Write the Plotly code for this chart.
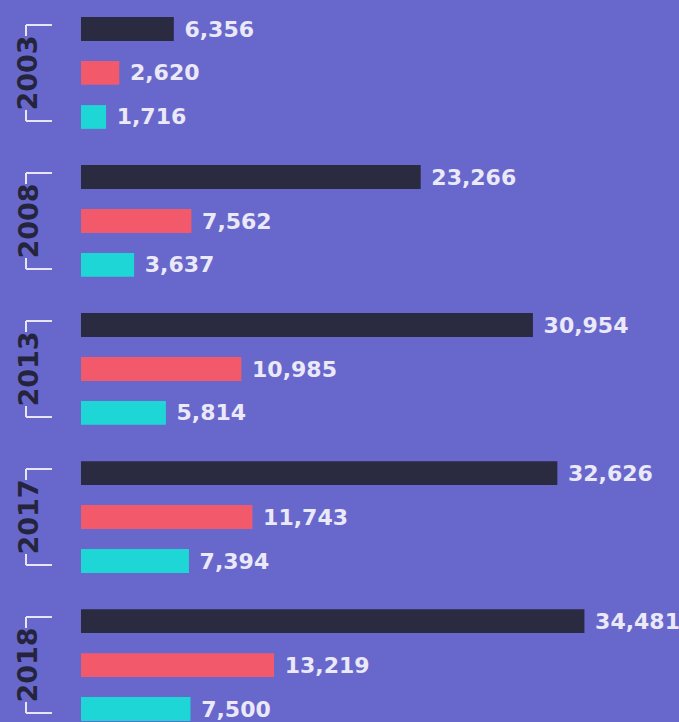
import plotly.graph_objects as go

# ---- data ----
years = ["2003", "2008", "2013", "2017", "2018"]
series_dark = [6356, 23266, 30954, 32626, 34481]
series_red = [2620, 7562, 10985, 11743, 13219]
series_cyan = [1716, 3637, 5814, 7394, 7500]

# ---- styling / layout constants ----
W, H = 679, 722
BG = "#6868cc"
C_DARK = "#2a2a40"
C_RED = "#f25a6b"
C_CYAN = "#1fd6d6"
C_LABEL = "#ebe9f8"
C_YEAR = "#24243c"

GROUP_STEP = 3.364          # row units between groups
PX_PER_UNIT_Y = 44.0
PX_PER_VAL = 0.0146         # px per value unit on x
BAR_X0_PX = 81

y_dark = [i * GROUP_STEP for i in range(len(years))]
y_red = [v + 1 for v in y_dark]
y_cyan = [v + 2 for v in y_dark]

first_px, last_px = 29, 709
y_top = -first_px / PX_PER_UNIT_Y
y_bot = y_cyan[-1] + (H - last_px) / PX_PER_UNIT_Y
x_min = -BAR_X0_PX / PX_PER_VAL
x_max = (W - BAR_X0_PX) / PX_PER_VAL

label_font = dict(family="DejaVu Sans", size=22, color=C_LABEL, weight="bold")

fig = go.Figure()
for vals, ys, col in [(series_dark, y_dark, C_DARK),
                      (series_red, y_red, C_RED),
                      (series_cyan, y_cyan, C_CYAN)]:
    fig.add_trace(go.Bar(
        x=vals, y=ys, orientation="h", width=0.54,
        marker=dict(color=col, line=dict(width=0)),
        texttemplate="\u00a0%{x:,}", textposition="outside",
        textfont=label_font, constraintext="none", cliponaxis=False,
        hoverinfo="skip", showlegend=False,
    ))

shapes = []
annotations = []
lx0, lx1 = 26 / W, 52 / W
off = 4 / PX_PER_UNIT_Y
tick = 11 / PX_PER_UNIT_Y
line = dict(color="#e6e4f5", width=2)
for i, yr in enumerate(years):
    yt = y_dark[i] - off
    yb = y_cyan[i] + off
    shapes += [
        dict(type="line", xref="paper", yref="y", x0=lx0, x1=lx1, y0=yt, y1=yt, line=line),
        dict(type="line", xref="paper", yref="y", x0=lx0, x1=lx0, y0=yt, y1=yt + tick, line=line),
        dict(type="line", xref="paper", yref="y", x0=lx0, x1=lx1, y0=yb, y1=yb, line=line),
        dict(type="line", xref="paper", yref="y", x0=lx0, x1=lx0, y0=yb, y1=yb - tick, line=line),
    ]
    annotations.append(dict(
        text=yr, xref="paper", yref="y", x=27.5 / W, y=y_red[i],
        textangle=-90, showarrow=False, xanchor="center", yanchor="middle",
        font=dict(family="DejaVu Sans", size=27, color=C_YEAR, weight="bold"),
    ))

fig.update_layout(
    width=W, height=H,
    margin=dict(l=0, r=0, t=0, b=0),
    paper_bgcolor=BG, plot_bgcolor=BG,
    barmode="overlay",
    xaxis=dict(range=[x_min, x_max], visible=False, fixedrange=True),
    yaxis=dict(range=[y_bot, y_top], visible=False, fixedrange=True),
    shapes=shapes, annotations=annotations,
    hovermode=False,
)

fig.write_html(
    "out.html",
    config={"displayModeBar": False, "staticPlot": True},
    post_script="document.body.style.margin='0';document.body.style.overflow='hidden';",
)
